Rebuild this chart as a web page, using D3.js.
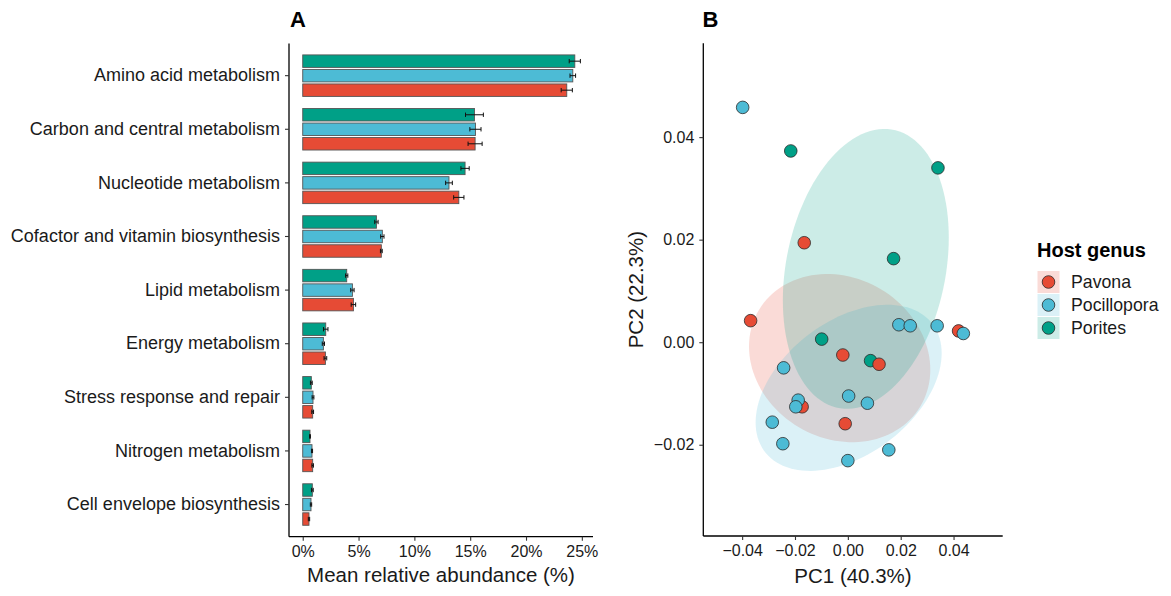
<!DOCTYPE html>
<html>
<head>
<meta charset="utf-8">
<script src="https://cdn.jsdelivr.net/npm/d3@7"></script>
<style>
  body { margin: 0; background: #fff; }
  svg { font-family: "Liberation Sans", Helvetica, Arial, sans-serif; }
</style>
</head>
<body>
<div id="chart"></div>
<script>
'use strict';

// panel A data (mean relative abundance %, with error)
const categories = [
    'Amino acid metabolism',
    'Carbon and central metabolism',
    'Nucleotide metabolism',
    'Cofactor and vitamin biosynthesis',
    'Lipid metabolism',
    'Energy metabolism',
    'Stress response and repair',
    'Nitrogen metabolism',
    'Cell envelope biosynthesis'
];
const genera = ['Pavona', 'Pocillopora', 'Porites'];
const pavona_mean = [23.65, 15.44, 13.98, 7.04, 4.54, 2.03, 0.89, 0.89, 0.56];
const pavona_err = [0.5, 0.63, 0.46, 0.08, 0.2, 0.12, 0.08, 0.07, 0.06];
const pocillopora_mean = [24.19, 15.47, 13.10, 7.13, 4.45, 1.85, 0.92, 0.83, 0.74];
const pocillopora_err = [0.25, 0.5, 0.3, 0.15, 0.15, 0.1, 0.08, 0.05, 0.06];
const porites_mean = [24.37, 15.38, 14.54, 6.60, 3.94, 2.06, 0.77, 0.65, 0.86];
const porites_err = [0.5, 0.8, 0.37, 0.15, 0.1, 0.2, 0.08, 0.04, 0.08];
const x_ticks_a = [0, 5, 10, 15, 20, 25];

// panel B data (PCA scores)
const pca_genus = [
    'Porites', 'Porites', 'Porites', 'Porites', 'Porites',
    'Pavona', 'Pavona', 'Pavona', 'Pavona', 'Pavona', 'Pavona', 'Pavona',
    'Pocillopora', 'Pocillopora', 'Pocillopora', 'Pocillopora', 'Pocillopora',
    'Pocillopora', 'Pocillopora', 'Pocillopora', 'Pocillopora', 'Pocillopora',
    'Pocillopora', 'Pocillopora', 'Pocillopora', 'Pocillopora'
];
const pc1 = [
    -0.0216, 0.0341, 0.0173, -0.0099, 0.0086,
    -0.0165, -0.0368, -0.0019, 0.0118, 0.0419, -0.0173, -0.0010,
    -0.0398, 0.0193, 0.0236, 0.0338, 0.0437, -0.0243, -0.0188,
    -0.0197, 0.0003, 0.0074, -0.0286, -0.0246, 0.0155, 0.0000
];
const pc2 = [
    0.0373, 0.0340, 0.0163, 0.0006, -0.0036,
    0.0194, 0.0042, -0.0025, -0.0043, 0.0022, -0.0126, -0.0159,
    0.0458, 0.0034, 0.0032, 0.0032, 0.0017, -0.0050, -0.0113,
    -0.0126, -0.0105, -0.0119, -0.0156, -0.0198, -0.0210, -0.0231
];
// 95% ellipses per genus (centre, spread along PC1/PC2, correlation)
const ellipse_cx = [-0.0031, 0.0003, 0.0068];
const ellipse_cy = [-0.0031, -0.0089, 0.0143];
const ellipse_sx = [0.0343, 0.0352, 0.0314];
const ellipse_sy = [0.0164, 0.0162, 0.0273];
const ellipse_r = [-0.138, 0.417, 0.224];
const x_ticks_b = [-0.04, -0.02, 0.00, 0.02, 0.04];
const y_ticks_b = [-0.02, 0.00, 0.02, 0.04];

const colors = { 'Pavona': '#E64B35', 'Pocillopora': '#4DBBD5', 'Porites': '#00A087' };
const text_color = '#1a1a1a';

const width = 1171, height = 596;

const svg = d3.select('#chart').append('svg')
    .attr('width', width)
    .attr('height', height);

// ---------------- panel A ----------------
const bar_data = [];
const means = { 'Pavona': pavona_mean, 'Pocillopora': pocillopora_mean, 'Porites': porites_mean };
const errs = { 'Pavona': pavona_err, 'Pocillopora': pocillopora_err, 'Porites': porites_err };
categories.forEach((c, i) => {
    genera.forEach(g => {
        bar_data.push({ category: c, genus: g, value: means[g][i], err: errs[g][i] });
    });
});

const xa = d3.scaleLinear().domain([-1.23, 26.0]).range([289, 593]);
const ya = d3.scaleBand().domain(categories).range([43.5, 536.7]).paddingInner(0).paddingOuter(0.1);
const bw = ya.bandwidth();
// top to bottom inside a group: Porites, Pocillopora, Pavona
const ya_inner = d3.scaleBand().domain(['Porites', 'Pocillopora', 'Pavona'])
    .range([0.113 * bw, 0.887 * bw]).paddingInner(0.14);

const bar_g = svg.append('g');

bar_g.selectAll('rect')
    .data(bar_data)
    .enter()
    .append('rect')
    .attr('x', xa(0))
    .attr('y', d => ya(d.category) + ya_inner(d.genus))
    .attr('width', d => xa(d.value) - xa(0))
    .attr('height', ya_inner.bandwidth())
    .attr('fill', d => colors[d.genus])
    .attr('stroke', '#555')
    .attr('stroke-width', 0.9);

// error bars
const cap = ya_inner.bandwidth() * 0.35;
const err_g = bar_g.selectAll('g.err')
    .data(bar_data)
    .enter()
    .append('g')
    .attr('class', 'err')
    .attr('stroke', '#111')
    .attr('stroke-width', 1);
err_g.append('line')
    .attr('x1', d => xa(d.value - d.err))
    .attr('x2', d => xa(d.value + d.err))
    .attr('y1', d => ya(d.category) + ya_inner(d.genus) + ya_inner.bandwidth() / 2)
    .attr('y2', d => ya(d.category) + ya_inner(d.genus) + ya_inner.bandwidth() / 2);
err_g.append('line')
    .attr('x1', d => xa(d.value - d.err))
    .attr('x2', d => xa(d.value - d.err))
    .attr('y1', d => ya(d.category) + ya_inner(d.genus) + ya_inner.bandwidth() / 2 - cap / 2)
    .attr('y2', d => ya(d.category) + ya_inner(d.genus) + ya_inner.bandwidth() / 2 + cap / 2);
err_g.append('line')
    .attr('x1', d => xa(d.value + d.err))
    .attr('x2', d => xa(d.value + d.err))
    .attr('y1', d => ya(d.category) + ya_inner(d.genus) + ya_inner.bandwidth() / 2 - cap / 2)
    .attr('y2', d => ya(d.category) + ya_inner(d.genus) + ya_inner.bandwidth() / 2 + cap / 2);

// axes A
function style_axis(g, size) {
    g.select('.domain').attr('stroke', '#000').attr('stroke-width', 1.3);
    g.selectAll('.tick line').attr('stroke', '#333').attr('stroke-width', 1.1);
    g.selectAll('.tick text')
        .attr('fill', text_color)
        .attr('font-size', size + 'px')
        .attr('font-family', '"Liberation Sans", Helvetica, Arial, sans-serif');
}

const xa_axis = svg.append('g')
    .attr('transform', 'translate(0,536.7)')
    .call(d3.axisBottom(xa).tickValues(x_ticks_a).tickFormat(d => d + '%').tickSize(4).tickSizeOuter(0).tickPadding(5));
xa_axis.select('.domain').attr('d', `M289,0H593`);
style_axis(xa_axis, 16);

const ya_axis = svg.append('g')
    .attr('transform', 'translate(289,0)')
    .call(d3.axisLeft(ya).tickSize(4).tickSizeOuter(0).tickPadding(5));
ya_axis.select('.domain').attr('d', `M0,43.5V536.7`);
style_axis(ya_axis, 18);

svg.append('text')
    .attr('x', (289 + 593) / 2)
    .attr('y', 582)
    .attr('text-anchor', 'middle')
    .attr('font-size', '20.5px')
    .attr('fill', text_color)
    .text('Mean relative abundance (%)');

svg.append('text')
    .attr('x', 290)
    .attr('y', 26.7)
    .attr('font-size', '22px')
    .attr('font-weight', 'bold')
    .attr('fill', '#000')
    .text('A');

// ---------------- panel B ----------------
const xb = d3.scaleLinear().domain([-0.0547, 0.0586]).range([703.3, 1002.7]);
const yb = d3.scaleLinear().domain([-0.0378, 0.0583]).range([536, 43.3]);

const ell_g = svg.append('g');
const steps = d3.range(0, 361, 3).map(a => a * Math.PI / 180);
genera.forEach((g, i) => {
    const pts = steps.map(t => {
        const ex = ellipse_cx[i] + ellipse_sx[i] * Math.cos(t);
        const ey = ellipse_cy[i] + ellipse_sy[i] *
            (ellipse_r[i] * Math.cos(t) + Math.sqrt(1 - ellipse_r[i] * ellipse_r[i]) * Math.sin(t));
        return [xb(ex), yb(ey)];
    });
    ell_g.append('path')
        .attr('d', d3.line().curve(d3.curveLinearClosed)(pts))
        .attr('fill', colors[g])
        .attr('fill-opacity', 0.2)
        .attr('stroke', 'none');
});

const point_data = pc1.map((v, i) => ({ x: v, y: pc2[i], genus: pca_genus[i] }));
svg.append('g').selectAll('circle')
    .data(point_data)
    .enter()
    .append('circle')
    .attr('cx', d => xb(d.x))
    .attr('cy', d => yb(d.y))
    .attr('r', 6.3)
    .attr('fill', d => colors[d.genus])
    .attr('stroke', '#2b2b2b')
    .attr('stroke-width', 0.8);

const xb_axis = svg.append('g')
    .attr('transform', 'translate(0,536)')
    .call(d3.axisBottom(xb).tickValues(x_ticks_b)
        .tickFormat(d => d3.format('.2f')(d).replace('-', '\u2212'))
        .tickSize(4).tickSizeOuter(0).tickPadding(5));
xb_axis.select('.domain').attr('d', `M703.3,0H1002.7`);
style_axis(xb_axis, 16);

const yb_axis = svg.append('g')
    .attr('transform', 'translate(703.3,0)')
    .call(d3.axisLeft(yb).tickValues(y_ticks_b)
        .tickFormat(d => d3.format('.2f')(d).replace('-', '\u2212'))
        .tickSize(4).tickSizeOuter(0).tickPadding(5));
yb_axis.select('.domain').attr('d', `M0,43.3V536`);
style_axis(yb_axis, 16);

svg.append('text')
    .attr('x', (703.3 + 1002.7) / 2)
    .attr('y', 582.7)
    .attr('text-anchor', 'middle')
    .attr('font-size', '20.5px')
    .attr('fill', text_color)
    .text('PC1 (40.3%)');

svg.append('text')
    .attr('transform', `translate(643,${(43.3 + 536) / 2}) rotate(-90)`)
    .attr('text-anchor', 'middle')
    .attr('font-size', '20.5px')
    .attr('fill', text_color)
    .text('PC2 (22.3%)');

svg.append('text')
    .attr('x', 702.5)
    .attr('y', 26.7)
    .attr('font-size', '22px')
    .attr('font-weight', 'bold')
    .attr('fill', '#000')
    .text('B');

// legend
const legend = svg.append('g').attr('transform', 'translate(1037,0)');
legend.append('text')
    .attr('x', 0)
    .attr('y', 257)
    .attr('font-size', '20px')
    .attr('font-weight', 'bold')
    .attr('fill', '#000')
    .text('Host genus');

const key = legend.selectAll('g.key')
    .data(genera)
    .enter()
    .append('g')
    .attr('class', 'key')
    .attr('transform', (d, i) => `translate(0,${270.5 + i * 23})`);
key.append('rect')
    .attr('x', 0.5)
    .attr('y', 0.5)
    .attr('width', 22)
    .attr('height', 22)
    .attr('fill', d => colors[d])
    .attr('fill-opacity', 0.2);
key.append('circle')
    .attr('cx', 11.5)
    .attr('cy', 11.5)
    .attr('r', 6.3)
    .attr('fill', d => colors[d])
    .attr('stroke', '#2b2b2b')
    .attr('stroke-width', 0.8);
key.append('text')
    .attr('x', 34)
    .attr('y', 11.5)
    .attr('dy', '0.35em')
    .attr('font-size', '17.7px')
    .attr('fill', text_color)
    .text(d => d);
</script>
</body>
</html>
